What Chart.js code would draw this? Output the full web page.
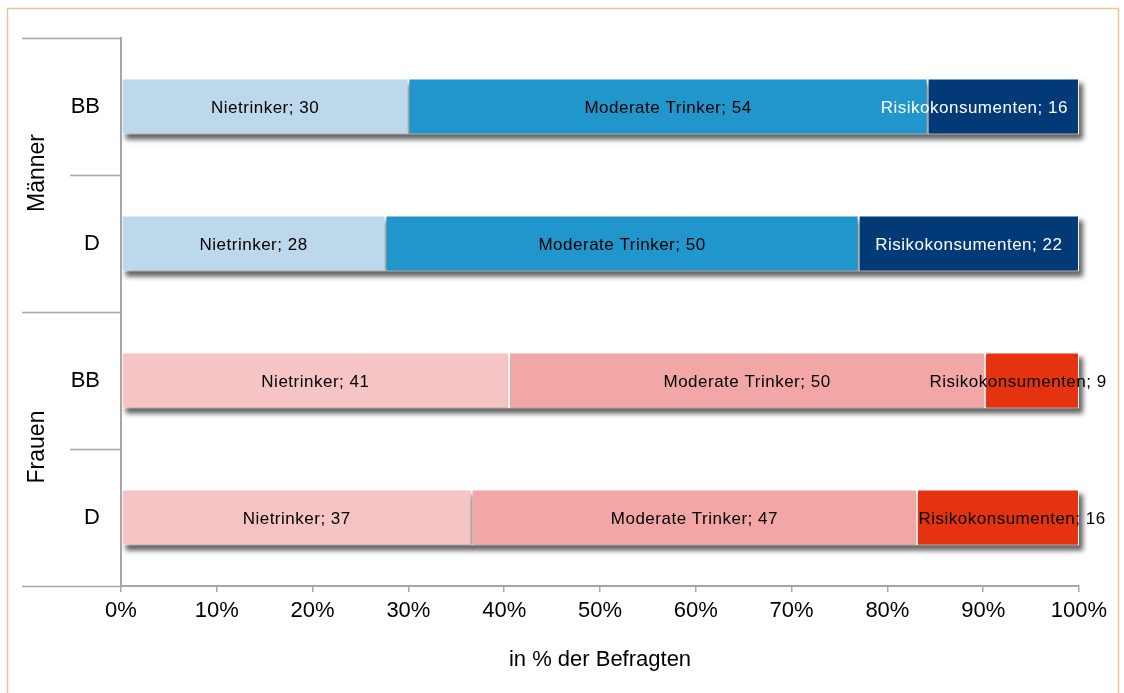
<!DOCTYPE html>
<html>
<head>
<meta charset="utf-8">
<script src="https://cdn.jsdelivr.net/npm/chart.js@4.4.1/dist/chart.umd.min.js"></script>
<style>
  html, body { margin: 0; padding: 0; background: #ffffff; }
  #wrap { width: 1124px; height: 693px; position: relative; }
</style>
</head>
<body>
<div id="wrap"><canvas id="c" width="1124" height="693"></canvas></div>
<script>
// ---- data ----
const categories = ['BB', 'D', 'BB', 'D'];
const groups = ['Männer', 'Frauen'];
const seriesNames = ['Nietrinker', 'Moderate Trinker', 'Risikokonsumenten'];
// bar lengths (in %)
const nietrinker = [30.0, 27.6, 40.5, 36.6];
const moderate   = [54.2, 49.4, 49.7, 46.5];
const risiko     = [15.8, 23.0, 9.8, 16.9];
// numbers printed in the labels
const nietrinkerLabels = [30, 28, 41, 37];
const moderateLabels   = [54, 50, 50, 47];
const risikoLabels     = [16, 22, 9, 16];
const xTicks = [0, 10, 20, 30, 40, 50, 60, 70, 80, 90, 100];
const xTitle = 'in % der Befragten';

const FONT = '"Liberation Sans", Arial, sans-serif';
const colors = [
  ['#BDD7EB', '#BDD7EB', '#F6C4C4', '#F6C4C4'],
  ['#2196CC', '#2196CC', '#F2A6A5', '#F2A6A5'],
  ['#023A77', '#023A77', '#E5330F', '#E5330F']
];
const labelColors = [
  ['#000', '#000', '#000', '#000'],
  ['#000', '#000', '#000', '#000'],
  ['#fff', '#fff', '#000', '#000']
];
const labelShift = [[0,0,0,0],[0,0,0,0],[-29,0,-14,14]];

const shadowPlugin = {
  id: 'shadow',
  beforeDatasetsDraw(chart) {
    const ctx = chart.ctx;
    const metas = chart.data.datasets.map((d, i) => chart.getDatasetMeta(i));
    const first = metas[0], last = metas[metas.length - 1];
    ctx.save();
    ctx.filter = 'blur(2.5px)';
    ctx.fillStyle = 'rgba(60,60,60,0.8)';
    first.data.forEach((bar, i) => {
      const endBar = last.data[i];
      const x0 = Math.min(bar.base, bar.x);
      const x1 = endBar.x;
      const h = bar.height;
      ctx.fillRect(x0 + 4, bar.y - h / 2 + 5, x1 - x0, h);
    });
    ctx.restore();
  }
};

const decoPlugin = {
  id: 'deco',
  beforeDraw(chart) {
    const ctx = chart.ctx;
    ctx.save();
    ctx.strokeStyle = '#EBC58E';
    ctx.lineWidth = 1.5;
    ctx.strokeRect(7.5, 8.5, 1111, 720);
    ctx.restore();
  },
  afterDraw(chart) {
    const ctx = chart.ctx;
    const y = chart.scales.y;
    const area = chart.chartArea;
    ctx.save();
    ctx.strokeStyle = '#A6A6A6';
    ctx.lineWidth = 1.5;
    // boundaries between categories
    const n = categories.length;
    for (let i = 0; i <= n; i++) {
      let py;
      if (i === 0) py = area.top;
      else if (i === n) py = area.bottom;
      else py = (y.getPixelForValue(i - 1) + y.getPixelForValue(i)) / 2;
      const long = (i % 2 === 0);
      const x0 = long ? 22 : 70;
      ctx.beginPath();
      ctx.moveTo(x0, Math.round(py) + 0.5);
      ctx.lineTo(area.left, Math.round(py) + 0.5);
      ctx.stroke();
    }
    // group labels
    ctx.fillStyle = '#000';
    ctx.font = '23px ' + FONT;
    ctx.textAlign = 'center';
    ctx.textBaseline = 'middle';
    groups.forEach((g, gi) => {
      const cy = (y.getPixelForValue(gi * 2) + y.getPixelForValue(gi * 2 + 1)) / 2;
      ctx.save();
      ctx.translate(38, cy - 2);
      ctx.rotate(-Math.PI / 2);
      ctx.fillText(g, 0, 0);
      ctx.restore();
    });
    // bar labels
    const labelNums = [nietrinkerLabels, moderateLabels, risikoLabels];
    ctx.font = '17px ' + FONT;
    if ('letterSpacing' in ctx) ctx.letterSpacing = '0.5px';
    chart.data.datasets.forEach((ds, di) => {
      const meta = chart.getDatasetMeta(di);
      meta.data.forEach((bar, i) => {
        const cx = (bar.x + bar.base) / 2 + labelShift[di][i];
        ctx.fillStyle = labelColors[di][i];
        ctx.fillText(seriesNames[di] + '; ' + labelNums[di][i], cx, bar.y + 2);
      });
    });
    ctx.restore();
  }
};

new Chart(document.getElementById('c'), {
  type: 'bar',
  data: {
    labels: categories,
    datasets: [
      { label: seriesNames[0], data: nietrinker, backgroundColor: colors[0] },
      { label: seriesNames[1], data: moderate, backgroundColor: colors[1] },
      { label: seriesNames[2], data: risiko, backgroundColor: colors[2] }
    ].map(d => Object.assign(d, {
      borderColor: 'rgba(255,255,255,0.95)',
      borderWidth: 1,
      borderSkipped: false,
      categoryPercentage: 1,
      barPercentage: 0.41
    }))
  },
  options: {
    indexAxis: 'y',
    responsive: false,
    animation: false,
    devicePixelRatio: 1,
    layout: { padding: { left: 0, right: 45, top: 38, bottom: 0 } },
    plugins: { legend: { display: false }, tooltip: { enabled: false } },
    scales: {
      x: {
        stacked: true,
        min: 0, max: 100,
        afterBuildTicks(scale) { scale.ticks = xTicks.map(v => ({ value: v })); },
        afterFit(scale) { scale.height = 107; },
        ticks: {
          callback: v => v + '%',
          color: '#000',
          font: { family: FONT, size: 22 },
          padding: 6,
          maxRotation: 0
        },
        grid: { drawOnChartArea: false, drawTicks: true, tickLength: 6, color: '#A6A6A6', lineWidth: 1.5 },
        border: { display: true, color: '#A6A6A6', width: 2 },
        title: {
          display: true, text: xTitle, color: '#000',
          font: { family: FONT, size: 22 },
          padding: { top: 0, bottom: 20 }
        }
      },
      y: {
        stacked: true,
        afterFit(scale) { scale.width = 121; },
        ticks: { color: '#000', font: { family: FONT, size: 22 }, padding: 21 },
        grid: { display: false, drawTicks: false },
        border: { display: true, color: '#A6A6A6', width: 2 }
      }
    }
  },
  plugins: [shadowPlugin, decoPlugin]
});
</script>
</body>
</html>
